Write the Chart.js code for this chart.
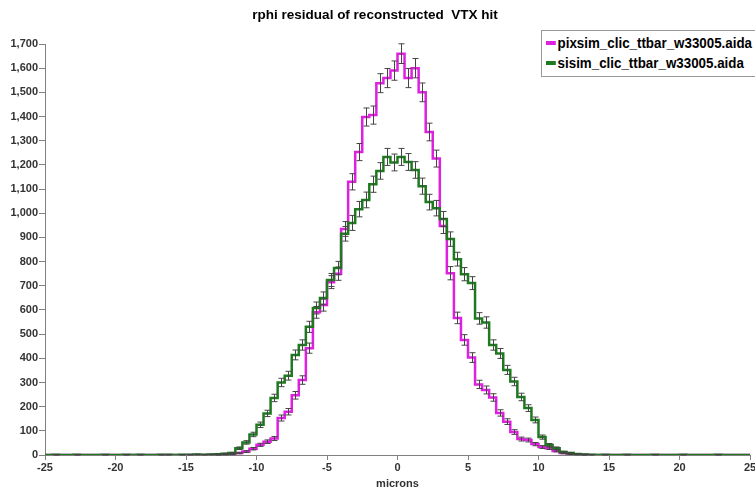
<!DOCTYPE html>
<html>
<head>
<meta charset="utf-8">
<script src="https://cdn.jsdelivr.net/npm/chart.js@4.4.1/dist/chart.umd.min.js"></script>
<style>
  body { margin: 0; background: #fff; }
  #wrap { position: relative; width: 755px; height: 490px; overflow: hidden; }
  #legend {
    position: absolute; left: 541px; top: 30px; width: 230px; height: 45px;
    border: 1px solid #999; background: #fff;
    font-family: "Liberation Sans", Arial, sans-serif;
    font-weight: bold; font-size: 15px; color: #000;
  }
  .item { position: absolute; left: 4px; white-space: nowrap; transform: scaleX(0.89); transform-origin: left center; }
  .sw { display: inline-block; width: 11px; height: 4px; vertical-align: middle; margin-right: 2px; position: relative; top: -1px; }
</style>
</head>
<body>
<div id="wrap">
  <canvas id="chart" width="755" height="490"></canvas>
  <div id="legend">
    <div class="item" style="top:3px"><span class="sw" style="background:#e020e0"></span>pixsim_clic_ttbar_w33005.aida</div>
    <div class="item" style="top:23px"><span class="sw" style="background:#1e7a1e"></span>sisim_clic_ttbar_w33005.aida</div>
  </div>
</div>
<script>
// histogram binning: 100 bins of 0.5 micron from -25 to 25
const xMin = -25;
const xMax = 25;
const binWidth = 0.5;

const seriesNames = ['pixsim_clic_ttbar_w33005.aida', 'sisim_clic_ttbar_w33005.aida'];

// bin contents, left to right
const pixsim = [
  0, 0, 0, 0, 0, 0, 0, 0, 0, 0, 0, 0, 0, 0, 0, 0, 0, 0, 0, 0, 0, 0, 0, 0,
  1, 2, 3, 8, 14, 26, 42, 55, 68, 153, 179, 247, 310, 442, 590, 620, 715, 750, 935, 1130,
  1253, 1398, 1406, 1538, 1559, 1590, 1660, 1559, 1600, 1500, 1336, 1226, 947, 752, 567, 476,
  403, 292, 269, 238, 174, 138, 95, 66, 62, 45, 33, 28, 17, 8, 4, 2, 1,
  0, 0, 0, 0, 0, 0, 0, 0, 0, 0, 0, 0, 0, 0, 0, 0, 0, 0, 0, 0, 0, 0, 0
];

const sisim = [
  0, 1, 0, 0, 1, 0, 0, 0, 1, 0, 0, 1, 0, 1, 0, 0, 1, 1, 0, 1, 1, 2, 1, 2,
  3, 5,
  8, 28, 52, 85, 125, 172, 236, 300, 328, 414, 455, 530, 608, 649, 724, 773, 915, 960,
  1017, 1055, 1120, 1175, 1233, 1210, 1233, 1212, 1179, 1112, 1046, 1021, 976, 893, 810, 748,
  711, 565, 548, 455, 420, 352, 304, 240, 194, 145, 74, 41, 28, 12, 8, 4, 2,
  1, 0, 1, 0, 0, 1, 0, 0, 0, 1, 0, 0, 0, 1, 0, 0, 0, 0, 1, 0, 0, 0, 0
];

// step points at bin left edges, plus closing point at the right edge
function stepPoints(vals) {
  const pts = vals.map((v, i) => ({ x: xMin + i * binWidth, y: v }));
  pts.push({ x: xMax, y: vals[vals.length - 1] });
  return pts;
}

const fontFamily = '"Liberation Sans", Arial, sans-serif';

// draws sqrt(N) error bars at bin centres
const errorBars = {
  id: 'errorBars',
  afterDatasetsDraw(chart) {
    const ctx = chart.ctx;
    const xs = chart.scales.x, ys = chart.scales.y;
    ctx.save();
    ctx.strokeStyle = '#444';
    ctx.lineWidth = 1;
    [pixsim, sisim].forEach(vals => {
      vals.forEach((v, i) => {
        if (v <= 0) return;
        const e = Math.sqrt(v);
        const cx = Math.round(xs.getPixelForValue(xMin + (i + 0.5) * binWidth)) + 0.5;
        const top = ys.getPixelForValue(v + e);
        const bot = ys.getPixelForValue(Math.max(v - e, 0));
        ctx.beginPath();
        ctx.moveTo(cx, top); ctx.lineTo(cx, bot);
        ctx.moveTo(cx - 3, top); ctx.lineTo(cx + 3, top);
        ctx.moveTo(cx - 3, bot); ctx.lineTo(cx + 3, bot);
        ctx.stroke();
      });
    });
    ctx.restore();
  }
};

new Chart(document.getElementById('chart'), {
  type: 'line',
  data: {
    datasets: [
      {
        label: seriesNames[0],
        data: stepPoints(pixsim),
        stepped: 'before',
        borderColor: '#e020e0',
        borderWidth: 2.5,
        pointRadius: 0,
        fill: false,
        order: 2
      },
      {
        label: seriesNames[1],
        data: stepPoints(sisim),
        stepped: 'before',
        borderColor: '#1e7a1e',
        borderWidth: 2.5,
        pointRadius: 0,
        fill: false,
        order: 1
      }
    ]
  },
  options: {
    responsive: false,
    animation: false,
    layout: { padding: { left: 0, right: 5, top: 0, bottom: 0 } },
    plugins: {
      legend: { display: false },
      tooltip: { enabled: false },
      title: {
        display: true,
        text: 'rphi residual of reconstructed  VTX hit',
        color: '#000',
        font: { family: fontFamily, size: 13.5, weight: 'bold' },
        padding: { top: 7, bottom: 20.8 }
      }
    },
    scales: {
      x: {
        type: 'linear',
        min: xMin,
        max: xMax,
        border: { color: '#808080', width: 1 },
        grid: { drawOnChartArea: false, tickLength: 5, color: '#808080' },
        ticks: {
          stepSize: 5,
          color: '#333',
          padding: 1,
          maxRotation: 0,
          font: { family: fontFamily, size: 11, weight: 'bold' }
        },
        title: {
          display: true,
          text: 'microns',
          color: '#333',
          font: { family: fontFamily, size: 11, weight: 'bold' },
          padding: { top: 0, bottom: -1 }
        },
        afterFit(s) { s.height = 35; s.paddingLeft = 0; s.paddingRight = 0; }
      },
      y: {
        min: 0,
        max: 1700,
        border: { color: '#808080', width: 1 },
        grid: { drawOnChartArea: false, tickLength: 6, color: '#808080' },
        ticks: {
          stepSize: 100,
          color: '#333',
          padding: 1,
          font: { family: fontFamily, size: 11, weight: 'bold' },
          callback: v => v.toLocaleString('en-US')
        },
        afterFit(s) { s.width = 45; s.paddingTop = 0; s.paddingBottom = 0; }
      }
    }
  },
  plugins: [errorBars]
});
</script>
</body>
</html>
